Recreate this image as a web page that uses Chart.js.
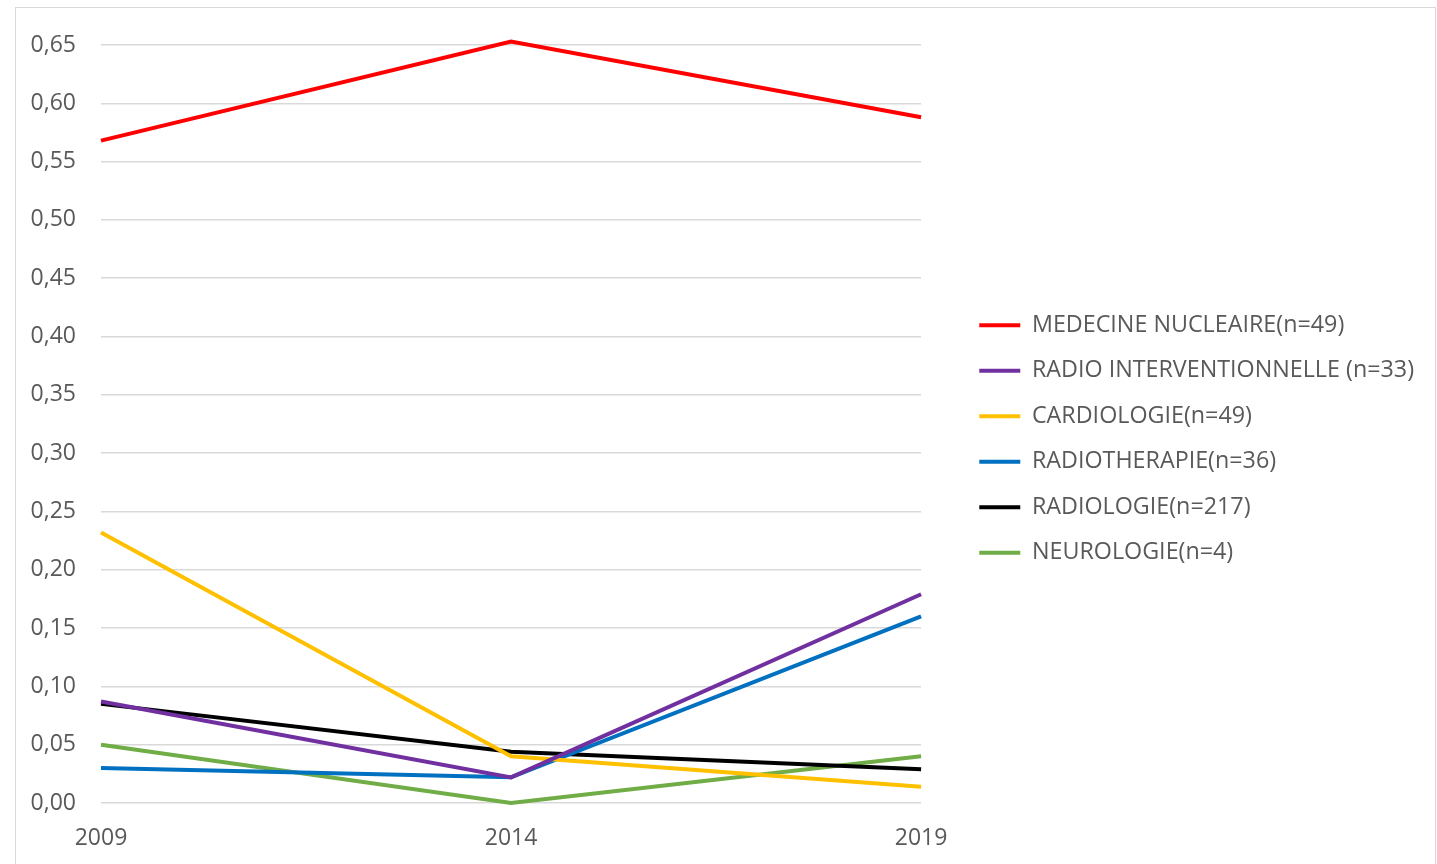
<!DOCTYPE html>
<html>
<head>
<meta charset="utf-8">
<script src="https://cdn.jsdelivr.net/npm/chart.js@4.4.0/dist/chart.umd.min.js"></script>
<style>
    html, body { margin: 0; padding: 0; background: #ffffff; overflow: hidden; }
    #frame {
        position: absolute; left: 15px; top: 7px; width: 1419px; height: 900px;
        border: 1px solid #d9d9d9; pointer-events: none;
    }
    #chart { position: absolute; left: 0; top: 0; }
</style>
</head>
<body>
<canvas id="chart" width="1437" height="864"></canvas>
<div id="frame"></div>
<script>
const YEARS = ['2009', '2014', '2019'];

const MEDECINE_NUCLEAIRE = [0.568, 0.653, 0.588];
const RADIO_INTERVENTIONNELLE = [0.087, 0.022, 0.179];
const CARDIOLOGIE = [0.232, 0.040, 0.014];
const RADIOTHERAPIE = [0.030, 0.022, 0.160];
const RADIOLOGIE = [0.085, 0.044, 0.029];
const NEUROLOGIE = [0.050, 0.000, 0.040];

const SERIES_LABELS = [
    'MEDECINE NUCLEAIRE(n=49)',
    'RADIO INTERVENTIONNELLE (n=33)',
    'CARDIOLOGIE(n=49)',
    'RADIOTHERAPIE(n=36)',
    'RADIOLOGIE(n=217)',
    'NEUROLOGIE(n=4)'
];
const SERIES_COLORS = ['#ff0000', '#7030a0', '#ffc000', '#0070c0', '#000000', '#70ad47'];
const SERIES_DATA = [MEDECINE_NUCLEAIRE, RADIO_INTERVENTIONNELLE, CARDIOLOGIE, RADIOTHERAPIE, RADIOLOGIE, NEUROLOGIE];

const TEXT = '#595959';
const FONT = "'Open Sans', sans-serif";

const datasets = SERIES_DATA.map(function(values, i) {
    return {
        label: SERIES_LABELS[i],
        data: values,
        borderColor: SERIES_COLORS[i],
        backgroundColor: SERIES_COLORS[i],
        borderWidth: 4,
        pointRadius: 0,
        tension: 0,
        clip: false
    };
});

// the layout caps a side legend at a quarter of the width, let it keep its natural size
const wideLegend = {
    id: 'wideLegend',
    beforeLayout(chart) {
        const legend = chart.legend;
        if (legend && !legend._wide) {
            const fit = legend.fit;
            legend.fit = function() {
                this.maxWidth = 800;
                fit.call(this);
            };
            legend._wide = true;
        }
    }
};

const ctx = document.getElementById('chart').getContext('2d');
new Chart(ctx, {
    type: 'line',
    data: { labels: YEARS, datasets: datasets },
    plugins: [wideLegend],
    options: {
        responsive: false,
        animation: false,
        layout: { padding: { top: 45, bottom: 0, left: 0, right: 13 } },
        plugins: {
            tooltip: { enabled: false },
            legend: {
                position: 'right',
                align: 'center',
                fullSize: false,
                // blank title only pushes the items down a little
                title: {
                    display: true,
                    text: ' ',
                    font: { size: 10 },
                    padding: { top: 9, bottom: 9 }
                },
                labels: {
                    color: TEXT,
                    font: { family: FONT, size: 23.3 },
                    usePointStyle: true,
                    pointStyle: 'line',
                    pointStyleWidth: 41,
                    padding: 22.2
                }
            }
        },
        scales: {
            x: {
                offset: false,
                grid: { display: false, drawTicks: false },
                border: { display: false },
                ticks: {
                    color: TEXT,
                    font: { family: FONT, size: 23 },
                    padding: 22,
                    maxRotation: 0
                },
                afterFit: function(scale) {
                    scale.height = 61;
                }
            },
            y: {
                min: 0,
                max: 0.65,
                grid: { color: '#d9d9d9', lineWidth: 1.5, drawTicks: false },
                border: { display: false },
                ticks: {
                    stepSize: 0.05,
                    color: TEXT,
                    font: { family: FONT, size: 23 },
                    padding: 25,
                    callback: function(v) {
                        return v.toFixed(2).replace('.', ',');
                    }
                },
                afterFit: function(scale) {
                    scale.width = 101;
                }
            },
            // empty spacer between the plot and the legend
            gap: {
                type: 'linear',
                position: 'right',
                grid: { display: false, drawTicks: false },
                border: { display: false },
                ticks: { display: false },
                afterFit: function(scale) {
                    scale.width = 36;
                }
            }
        }
    }
});
</script>
</body>
</html>
